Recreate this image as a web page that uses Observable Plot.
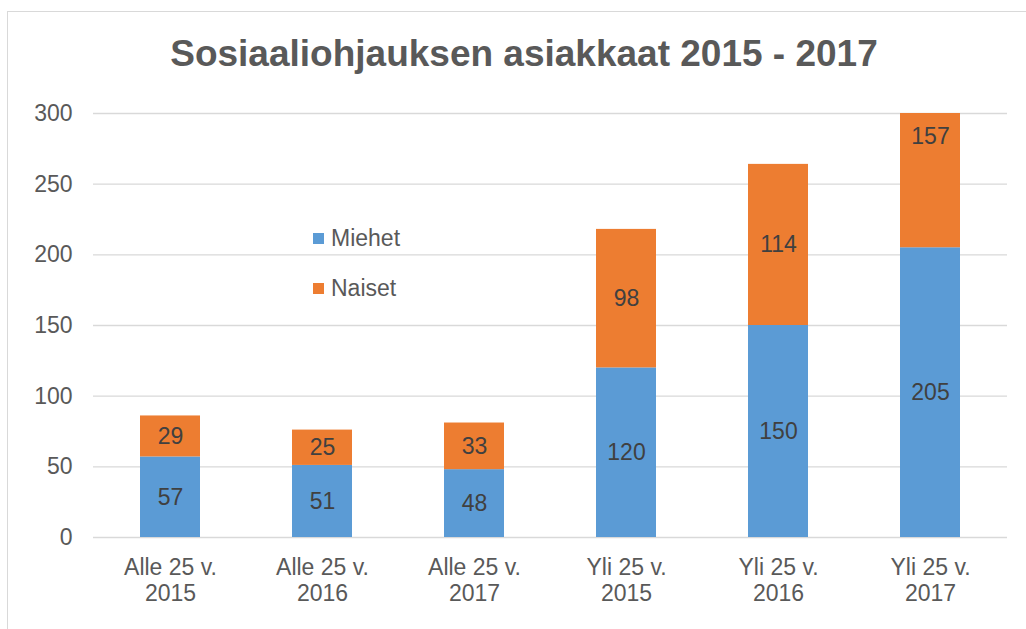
<!DOCTYPE html>
<html>
<head>
<meta charset="utf-8">
<script src="https://cdn.jsdelivr.net/npm/d3@7"></script>
<script src="https://cdn.jsdelivr.net/npm/@observablehq/plot@0.6"></script>
<style>
  html, body { margin: 0; padding: 0; background: #fff; }
  #wrap { position: relative; width: 1026px; height: 629px; overflow: hidden; font-family: "Liberation Sans", Arial, sans-serif; }
  #frame { position: absolute; left: 7px; top: 11px; width: 1030px; height: 640px; border: 1.5px solid #d9d9d9; box-sizing: border-box; }
  #title { position: absolute; left: 0; width: 1048px; top: 28px; text-align: center; font-weight: bold; font-size: 37px; color: #595959; line-height: 52px; }
  #chart { position: absolute; left: 0; top: 90px; }
  .leg { position: absolute; left: 313px; font-size: 23px; color: #595959; line-height: 26px; display: flex; align-items: center; }
  .leg span.sw { display: inline-block; width: 11px; height: 11px; margin-right: 7px; }
</style>
</head>
<body>
<div id="wrap">
  <div id="frame"></div>
  <div id="title">Sosiaaliohjauksen asiakkaat 2015 - 2017</div>
  <div id="chart"></div>
  <div class="leg" style="top:225px"><span class="sw" style="background:#5B9BD5"></span>Miehet</div>
  <div class="leg" style="top:275px"><span class="sw" style="background:#ED7D31"></span>Naiset</div>
</div>
<script>
const categories = ["Alle 25 v.\n2015", "Alle 25 v.\n2016", "Alle 25 v.\n2017", "Yli 25 v.\n2015", "Yli 25 v.\n2016", "Yli 25 v.\n2017"];
const seriesNames = ["Miehet", "Naiset"];
const miehet = [57, 51, 48, 120, 150, 205];
const naiset = [29, 25, 33, 98, 114, 157];
const yTicks = [0, 50, 100, 150, 200, 250, 300];
const seriesColors = ["#5B9BD5", "#ED7D31"];

const data = [];
categories.forEach((c, i) => {
  data.push({category: c, series: seriesNames[0], value: miehet[i]});
  data.push({category: c, series: seriesNames[1], value: naiset[i]});
});

const chart = Plot.plot({
  width: 1026,
  height: 539,
  marginTop: 23,
  marginBottom: 92,
  marginLeft: 93,
  marginRight: 19,
  style: {fontFamily: "'Liberation Sans', Arial, sans-serif", fontSize: "23px", color: "#595959", background: "transparent"},
  x: {domain: categories, paddingInner: 0.606, paddingOuter: 0.303, label: null},
  y: {domain: [0, 300], ticks: yTicks, label: null},
  color: {domain: seriesNames, range: seriesColors},
  marks: [
    Plot.gridY(yTicks, {stroke: "#d9d9d9", strokeOpacity: 1, strokeWidth: 1.3}),
    Plot.axisY(yTicks, {tickSize: 0, tickPadding: 21, fontSize: 23, fill: "#595959", label: null}),
    Plot.axisX({tickSize: 0, tickPadding: 20, fontSize: 23, fill: "#595959", lineHeight: 1.1, label: null}),
    Plot.barY(data, Plot.stackY({x: "category", y: "value", fill: "series", order: seriesNames, clip: true})),
    Plot.text(data, Plot.stackY({x: "category", y: "value", z: "series", order: seriesNames, text: d => String(d.value), fill: "#404040", fontSize: 23})),
  ]
});
document.getElementById("chart").appendChild(chart);
</script>
</body>
</html>
